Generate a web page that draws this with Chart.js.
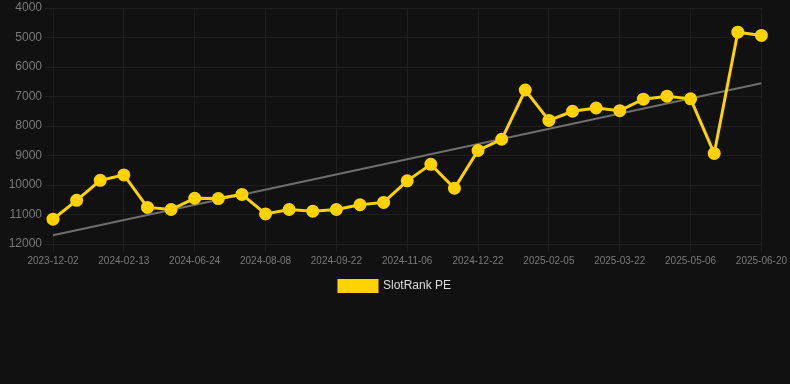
<!DOCTYPE html>
<html>
<head>
<meta charset="utf-8">
<script src="https://cdn.jsdelivr.net/npm/chart.js@4/dist/chart.umd.min.js"></script>
<style>
html,body{margin:0;padding:0;background:#111111;}
#wrap{width:790px;height:384px;position:relative;}
</style>
</head>
<body>
<div id="wrap"><canvas id="c" width="790" height="384"></canvas></div>
<script>
const categories = [
  "2023-12-02","2023-12-26","2024-01-19","2024-02-13","2024-03-27","2024-05-10",
  "2024-06-24","2024-07-09","2024-07-24","2024-08-08","2024-08-23","2024-09-07",
  "2024-09-22","2024-10-07","2024-10-22","2024-11-06","2024-11-21","2024-12-06",
  "2024-12-22","2025-01-06","2025-01-21","2025-02-05","2025-02-20","2025-03-07",
  "2025-03-22","2025-04-06","2025-04-21","2025-05-06","2025-05-21","2025-06-05",
  "2025-06-20"
];
const slotRankPE = [
  11160, 10520, 9840, 9660, 10760, 10830, 10450, 10460, 10320, 10980,
  10830, 10890, 10830, 10670, 10590, 9860, 9300, 10110, 8830, 8450,
  6780, 7810, 7500, 7390, 7480, 7090, 6990, 7080, 8930, 4820, 4930
];
const trendStart = 11700;
const trendEnd = 6550;
const trendValues = categories.map((_, i) => i === 0 ? trendStart : (i === categories.length - 1 ? trendEnd : null));
const yTicks = [4000, 5000, 6000, 7000, 8000, 9000, 10000, 11000, 12000];

new Chart(document.getElementById('c'), {
  type: 'line',
  data: {
    labels: categories,
    datasets: [
      {
        label: 'SlotRank PE',
        data: slotRankPE,
        borderColor: '#FFD200',
        backgroundColor: '#FFD200',
        borderWidth: 3,
        pointRadius: 5,
        pointHoverRadius: 5,
        pointBackgroundColor: '#FFD200',
        pointBorderColor: '#FFD200',
        tension: 0,
        order: 1
      },
      {
        label: 'Trend',
        data: trendValues,
        borderColor: '#6e6e6e',
        backgroundColor: '#6e6e6e',
        borderWidth: 2,
        pointRadius: 0,
        spanGaps: true,
        order: 2
      }
    ]
  },
  options: {
    responsive: false,
    animation: false,
    layout: { padding: { top: 0, right: 0, bottom: 82, left: 0 } },
    plugins: {
      legend: {
        position: 'bottom',
        labels: {
          color: '#dddddd',
          font: { family: 'Arial, Liberation Sans, sans-serif', size: 12 },
          boxWidth: 38,
          boxHeight: 11,
          filter: (item) => item.text === 'SlotRank PE'
        }
      },
      tooltip: { enabled: false }
    },
    scales: {
      x: {
        grid: { color: '#1e1e1e', drawTicks: true, tickLength: 8 },
        border: { color: '#1e1e1e' },
        ticks: {
          color: '#7a7a7a',
          font: { family: 'Arial, Liberation Sans, sans-serif', size: 10 },
          autoSkip: false,
          maxRotation: 0,
          minRotation: 0,
          callback: function(v, i) { return i % 3 === 0 ? categories[i] : null; }
        }
      },
      y: {
        reverse: true,
        min: 4000,
        max: 12000,
        afterBuildTicks: (axis) => { axis.ticks = yTicks.map(v => ({ value: v })); },
        afterFit: (axis) => { axis.width = 53; axis.paddingTop = 5; axis.paddingBottom = 0; },
        grid: { color: '#1e1e1e', tickLength: 8 },
        border: { color: '#1e1e1e' },
        ticks: {
          color: '#7a7a7a',
          font: { family: 'Arial, Liberation Sans, sans-serif', size: 12 },
          padding: 3,
          callback: (v) => String(v)
        }
      }
    }
  }
});
</script>
</body>
</html>
